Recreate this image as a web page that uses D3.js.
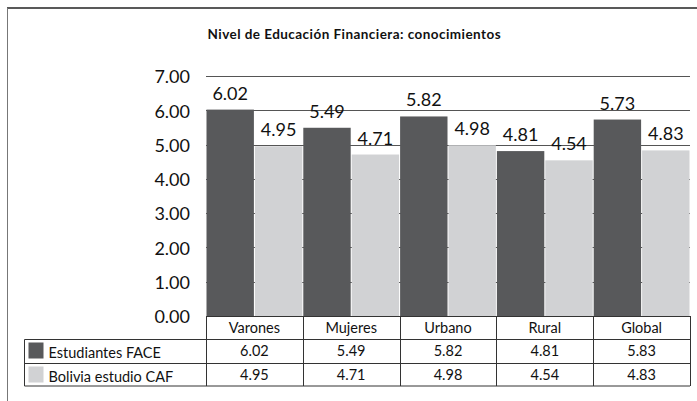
<!DOCTYPE html>
<html>
<head>
<meta charset="utf-8">
<script src="https://cdnjs.cloudflare.com/ajax/libs/d3/7.8.5/d3.min.js"></script>
<style>
  body { margin: 0; background: #fff; }
  svg { display: block; font-family: Lato, "Open Sans", sans-serif; }
</style>
</head>
<body>
<div id="chart"></div>
<script>
// chart data
var categories = ["Varones", "Mujeres", "Urbano", "Rural", "Global"];
var seriesNames = ["Estudiantes FACE", "Bolivia estudio CAF"];
var faceValues = [6.02, 5.49, 5.82, 4.81, 5.73];
var cafValues = [4.95, 4.71, 4.98, 4.54, 4.83];
// the data table under the chart prints its own text
var faceTable = ["6.02", "5.49", "5.82", "4.81", "5.83"];
var cafTable = ["4.95", "4.71", "4.98", "4.54", "4.83"];
var yTicks = [0, 1, 2, 3, 4, 5, 6, 7];
var title = "Nivel de Educación Financiera: conocimientos";

var W = 697, H = 401;
var colors = ["#58595b", "#d1d2d4"];

var svg = d3.select("#chart").append("svg")
    .attr("width", W)
    .attr("height", H);

// outer frame (cut off on the right and bottom)
svg.append("line").attr("x1", 7).attr("x2", W).attr("y1", 8).attr("y2", 8)
    .attr("stroke", "#222").attr("stroke-width", 1.5);
svg.append("line").attr("x1", 7.5).attr("x2", 7.5).attr("y1", 8).attr("y2", H)
    .attr("stroke", "#777").attr("stroke-width", 1);

svg.append("text")
    .attr("x", 207.5).attr("y", 38.5)
    .attr("font-size", 13.5).attr("font-weight", "bold").attr("fill", "#111")
    .attr("letter-spacing", 0.45)
    .text(title);

var x0 = d3.scaleBand().domain(categories).range([206, 690]).padding(0);
var x1 = d3.scaleBand().domain([0, 1]).range([0, x0.bandwidth()]).padding(0);
var y = d3.scaleLinear().domain([0, 7]).range([316, 76]);

// gridlines
svg.append("g").selectAll("line")
    .data(yTicks.filter(function (d) { return d > 0; }))
  .enter().append("line")
    .attr("x1", 206).attr("x2", 690)
    .attr("y1", function (d) { return Math.round(y(d)) + 0.5; })
    .attr("y2", function (d) { return Math.round(y(d)) + 0.5; })
    .attr("stroke", "#555").attr("stroke-width", 1.2);

// y axis labels
var yAxis = d3.axisLeft(y).tickValues(yTicks).tickSize(0).tickPadding(0)
    .tickFormat(d3.format(".2f"));
var ya = svg.append("g").attr("transform", "translate(190,1)").call(yAxis);
ya.select(".domain").remove();
ya.selectAll("text").attr("font-size", 18).attr("fill", "#111")
    .attr("font-family", "Lato, sans-serif");

// bars
var rows = categories.map(function (c, i) {
  return { cat: c, vals: [faceValues[i], cafValues[i]] };
});
var groups = svg.append("g").selectAll("g")
    .data(rows)
  .enter().append("g")
    .attr("transform", function (d) { return "translate(" + x0(d.cat) + ",0)"; });

groups.selectAll("rect")
    .data(function (d) { return d.vals.map(function (v, k) { return { k: k, v: v }; }); })
  .enter().append("rect")
    .attr("x", function (d) { return x1(d.k) + 0.5; })
    .attr("width", x1.bandwidth() - 1)
    .attr("y", function (d) { return y(d.v); })
    .attr("height", function (d) { return y(0) - y(d.v); })
    .attr("fill", function (d) { return colors[d.k]; });

groups.selectAll("text.val")
    .data(function (d) { return d.vals.map(function (v, k) { return { k: k, v: v }; }); })
  .enter().append("text")
    .attr("class", "val")
    .attr("x", function (d) { return x1(d.k) + x1.bandwidth() / 2; })
    .attr("y", function (d) { return y(d.v) - 10; })
    .attr("text-anchor", "middle")
    .attr("font-size", 18).attr("fill", "#111")
    .text(function (d) { return d.v.toFixed(2); });

// data table
var rowTop = [316, 339.5, 363.5, 386];
var tableLeft = 24.5;
var tbl = svg.append("g").attr("stroke", "#333").attr("stroke-width", 1).attr("fill", "none");
tbl.append("line").attr("x1", 206).attr("x2", 690).attr("y1", rowTop[0] + 0.5).attr("y2", rowTop[0] + 0.5);
[1, 2, 3].forEach(function (r) {
  tbl.append("line").attr("x1", tableLeft).attr("x2", 690)
      .attr("y1", rowTop[r]).attr("y2", rowTop[r]);
});
tbl.append("line").attr("x1", tableLeft).attr("x2", tableLeft)
    .attr("y1", rowTop[1]).attr("y2", rowTop[3]);
var edges = categories.map(function (c) { return x0(c); }).concat([690]);
edges.forEach(function (e) {
  tbl.append("line").attr("x1", Math.round(e) + 0.5).attr("x2", Math.round(e) + 0.5)
      .attr("y1", rowTop[0]).attr("y2", rowTop[3]);
});

// category header
svg.append("g").selectAll("text")
    .data(categories)
  .enter().append("text")
    .attr("x", function (d) { return x0(d) + x0.bandwidth() / 2; })
    .attr("y", 332.5)
    .attr("text-anchor", "middle")
    .attr("font-size", 14.5).attr("fill", "#111")
    .text(function (d) { return d; });

// table values
[faceTable, cafTable].forEach(function (arr, r) {
  svg.append("g").selectAll("text")
      .data(arr)
    .enter().append("text")
      .attr("x", function (d, i) { return x0(categories[i]) + x0.bandwidth() / 2; })
      .attr("y", r === 0 ? 355.5 : 379.5)
      .attr("text-anchor", "middle")
      .attr("font-size", 14.5).attr("fill", "#111")
      .text(function (d) { return d; });
});

// legend keys
var leg = svg.append("g").selectAll("g")
    .data(seriesNames)
  .enter().append("g")
    .attr("transform", function (d, i) { return "translate(0," + (i === 0 ? 342.5 : 366.5) + ")"; });
leg.append("rect")
    .attr("x", 28.5).attr("y", 0).attr("width", 15).attr("height", 16)
    .attr("fill", function (d, i) { return colors[i]; });
leg.append("text")
    .attr("x", 48.5).attr("y", 15.5)
    .attr("font-size", 14.5).attr("fill", "#111")
    .text(function (d) { return d; });
</script>
</body>
</html>
